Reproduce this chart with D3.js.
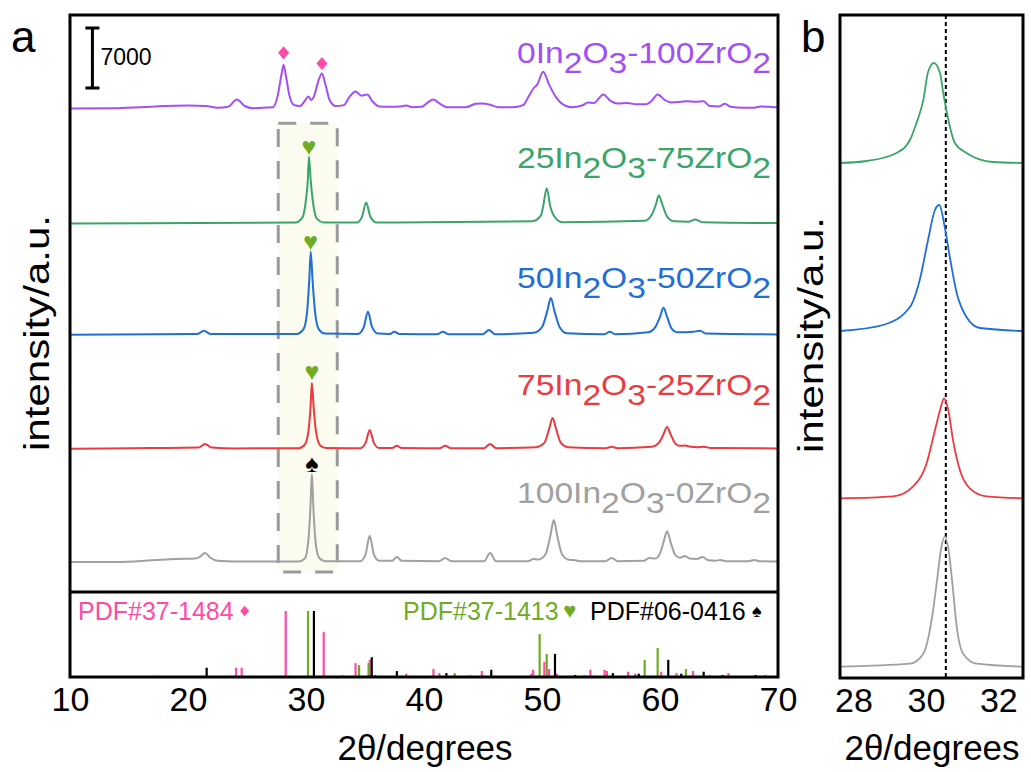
<!DOCTYPE html>
<html>
<head>
<meta charset="utf-8">
<script src="https://cdn.jsdelivr.net/npm/d3@7"></script>
<style>
body { margin: 0; background: #fff; }
text { font-family: "Liberation Sans", Arial, sans-serif; }
</style>
</head>
<body>
<svg id="drawing_region"></svg>
<script>
// ---- data: [2theta, counts above the trace baseline] ----
const samples = ["100In2O3-0ZrO2", "75In2O3-25ZrO2", "50In2O3-50ZrO2", "25In2O3-75ZrO2", "0In2O3-100ZrO2"];

const pattern_100In = [[10,0],[14,0],[17,200],[19,350],[20.6,400],[21.0,600],[21.45,1050],[21.9,500],[22.5,150],[25,50],
  [29.4,50],[29.9,400],[30.2,2500],[30.38,6500],[30.5,10300],[30.62,6500],[30.8,2500],[31.1,500],[31.6,100],
  [34.6,100],[35.05,900],[35.4,3050],[35.75,900],[36.2,150],[37.3,150],[37.7,580],[38.1,150],[41.3,100],[41.8,470],[42.3,100],
  [45.1,100],[45.6,1050],[46.1,100],[48.8,100],[49.3,350],[49.7,300],[50.3,900],[50.7,3000],[51.0,4900],[51.3,3000],[51.7,900],
  [52.3,250],[52.7,230],[53.2,100],[55.4,100],[55.9,470],[56.4,100],[58.6,150],[59.1,470],[59.6,400],[60.0,1000],[60.3,2300],
  [60.6,3600],[60.9,2300],[61.3,800],[61.7,500],[62.1,700],[62.5,400],[63.1,350],[63.6,580],[64.1,200],[64.7,150],[65.1,230],
  [65.6,100],[67.5,100],[68.0,230],[68.5,80],[70,50]];

const pattern_75In = [[10,0],[17,100],[20.9,150],[21.45,580],[22,150],[24,50],[29.4,80],[29.9,500],[30.2,2000],[30.38,4800],
  [30.5,7700],[30.65,4800],[30.85,2000],[31.2,400],[31.7,100],[34.6,80],[35.05,700],[35.4,2200],[35.75,700],[36.2,100],
  [37.3,100],[37.7,350],[38.1,100],[41.3,80],[41.8,350],[42.3,80],[45.1,80],[45.6,580],[46.1,80],[49.5,200],[50.2,700],
  [50.6,2300],[50.9,3600],[51.2,2300],[51.6,700],[52.2,200],[55.4,80],[55.9,250],[56.4,80],[59.3,250],[59.9,700],[60.3,1700],
  [60.6,2550],[60.9,1700],[61.3,600],[61.7,350],[62.1,380],[62.6,250],[63.2,200],[63.7,250],[64.3,100],[70,50]];

const pattern_50In = [[10,0],[20.8,100],[21.35,470],[21.9,100],[29.2,100],[29.8,700],[30.1,2800],[30.28,6500],[30.4,9700],
  [30.55,6500],[30.78,2500],[31.1,600],[31.6,150],[34.4,100],[34.9,900],[35.25,2700],[35.6,900],[36.1,150],[37.1,100],
  [37.5,350],[37.9,100],[41.1,80],[41.6,350],[42.1,80],[45.0,80],[45.5,580],[46.0,80],[49.3,250],[50.0,900],[50.45,2800],
  [50.75,4300],[51.05,2800],[51.5,900],[52.1,200],[55.3,80],[55.75,350],[56.2,80],[59.0,300],[59.6,900],[60.0,2100],
  [60.3,3150],[60.6,2100],[61.0,700],[61.5,300],[62.2,300],[62.8,350],[63.4,470],[63.9,150],[70,50]];

const pattern_25In = [[10,0],[29.1,100],[29.7,700],[30.0,2800],[30.15,5000],[30.25,7800],[30.4,5000],[30.62,2200],[30.95,500],
  [31.5,120],[34.3,100],[34.75,800],[35.1,2450],[35.45,800],[35.95,120],[49.2,250],[49.9,900],[50.1,2000],[50.4,4100],
  [50.7,2000],[51.1,700],[51.7,150],[58.7,300],[59.3,1000],[59.65,2200],[59.9,3250],[60.2,2200],[60.6,800],[61.2,250],
  [62.4,200],[63.0,470],[63.6,150],[70,50]];

const pattern_0In = [[10,0],[14,50],[16,150],[18,300],[20,350],[21.5,300],[22.5,100],[23.4,200],[24.15,1050],[24.8,300],
  [25.5,50],[27.2,150],[27.6,1500],[27.9,3800],[28.1,5100],[28.3,3800],[28.6,1500],[29.0,400],[29.5,300],[29.9,900],
  [30.2,1400],[30.45,1000],[30.7,1500],[31.0,3000],[31.35,4100],[31.65,2800],[32.0,1000],[32.5,300],[33.2,400],[33.7,1400],
  [34.2,2000],[34.7,1500],[35.2,1650],[35.6,900],[36.2,250],[37.2,200],[38.0,250],[38.5,350],[39.0,150],[39.8,200],
  [40.3,700],[40.8,1050],[41.3,600],[42.0,150],[43.5,150],[44.4,550],[44.9,600],[45.6,450],[46.3,150],[47.5,150],
  [48.4,400],[48.9,1500],[49.3,2400],[49.6,2800],[50.1,4300],[50.6,2800],[51.2,1300],[51.8,450],[52.5,150],[53.4,350],
  [53.9,700],[54.4,650],[55.2,1650],[55.8,900],[56.4,600],[57.2,650],[58.0,500],[58.8,500],[59.3,900],[59.8,1650],
  [60.4,1000],[61.0,700],[61.8,800],[62.3,850],[63.0,800],[63.7,850],[64.2,300],[65.0,250],[65.5,550],[66.0,200],
  [67,100],[68.0,100],[68.5,250],[69.2,200],[70,150]];

// reference cards: [2theta, relative intensity]
const pdf_37_1484 = [[17.4,2],[24.07,14],[24.55,14],[28.28,100],[31.5,68],[34.2,21],[35.4,26],[35.85,3],[38.5,5],[40.8,12],
  [41.3,6],[44.9,9],[49.1,5],[49.25,11],[50.2,23],[50.6,12],[51.27,5],[54.1,11],[55.3,11],[55.5,9],[57.3,8],[57.9,5],
  [60.1,8],[61.4,6],[62.8,9],[64.2,3],[65.8,6]];
const pdf_37_1413 = [[30.17,100],[34.5,18],[35.3,21],[42.6,6],[49.8,65],[50.4,35],[53.6,3],[58.7,26],[59.8,44],[62.2,12],[68.9,3]];
const pdf_06_0416 = [[21.58,14],[30.67,100],[33.1,2],[35.57,30],[37.7,9],[41.9,6],[43.9,2],[45.7,11],[51.1,35],[52.8,3],
  [56.0,6],[58.2,5],[60.7,26],[61.8,5],[63.7,8],[65.3,3],[68.1,3]];
const cardNames = ["PDF#37-1484", "PDF#37-1413", "PDF#06-0416"];

// panel b, slow scan around the (222) reflection
const zoom_100In = [[27.63,0],[29.56,180],[29.93,780],[30.16,2820],[30.31,5220],[30.43,7200],[30.52,7800],[30.64,6780],
  [30.74,4800],[30.85,2400],[31.03,780],[31.4,180],[32.68,0]];
const zoom_75In = [[27.63,0],[29.1,120],[29.65,720],[30.02,2100],[30.25,4080],[30.39,5280],[30.5,6000],[30.62,5280],
  [30.75,3480],[30.94,1680],[31.21,600],[31.67,120],[32.68,0]];
const zoom_50In = [[27.63,0],[28.82,360],[29.56,1440],[29.83,3060],[30.06,5460],[30.25,7260],[30.37,7560],[30.52,6240],
  [30.66,4440],[30.85,2280],[31.12,840],[31.49,180],[32.68,0]];
const zoom_25In = [[27.63,0],[28.37,120],[29.19,600],[29.56,1380],[29.74,2400],[29.93,3780],[30.06,5460],[30.22,6000],
  [30.39,5400],[30.48,4200],[30.62,2580],[30.8,1200],[31.12,600],[31.85,60],[32.68,0]];

const xTicksA = [10, 20, 30, 40, 50, 60, 70];
const xTicksB = [28, 30, 32];
const scaleBar = 7000;
const refLine = 30.55;

// ---- layout / style ----
const config = {
  width: 1031, height: 772,
  a: { left: 70, right: 778, top: 15, split: 592, bottom: 677 },
  b: { left: 840, right: 1023, top: 15, bottom: 678 },
  colors: ["#a0a0a0", "#eb3b40", "#1f6fd6", "#3aa56a", "#a24ff5"],
  cardColors: ["#ff4aa6", "#6fac23", "#000000"],
  offsetsA: [3500, 16700, 30000, 43000, 56400],
  offsetsB: [680, 10780, 20820, 30900],
  labelDy: [-59, -54, -47, -55, -46]
};
const patterns = [pattern_100In, pattern_75In, pattern_50In, pattern_25In, pattern_0In];
const zooms = [zoom_100In, zoom_75In, zoom_50In, zoom_25In];
const cards = [pdf_37_1484, pdf_37_1413, pdf_06_0416];

const svg = d3.select('#drawing_region')
  .attr('width', config.width)
  .attr('height', config.height);

const A = config.a, B = config.b;
const xA = d3.scaleLinear().domain([10, 70]).range([A.left, A.right]);
const yA = d3.scaleLinear().domain([0, (A.split - A.top) * scaleBar / 60]).range([A.split, A.top]);
const yS = d3.scaleLinear().domain([0, 100]).range([A.bottom, 611]);
const xB = d3.scaleLinear().domain([27.63, 32.68]).range([B.left, B.right]);
const yB = d3.scaleLinear().domain([0, (B.bottom - B.top) * 60]).range([B.bottom, B.top]);

// highlighted window round the main reflection
const win = { t0: 27.65, t1: 32.65, c0: 2330, c1: 54700 };
svg.append('rect')
  .attr('x', xA(win.t0)).attr('y', yA(win.c1))
  .attr('width', xA(win.t1) - xA(win.t0)).attr('height', yA(win.c0) - yA(win.c1))
  .attr('fill', '#fbfbef')
  .attr('stroke', '#9a9a9a')
  .attr('stroke-width', 3)
  .attr('stroke-dasharray', '18,14');

// traces
patterns.forEach((p, i) => {
  const off = config.offsetsA[i];
  const line = d3.line()
    .x(d => xA(d[0]))
    .y(d => yA(off + d[1]))
    .curve(d3.curveMonotoneX);
  svg.append('path')
    .attr('d', line(p))
    .attr('fill', 'none')
    .attr('stroke', config.colors[i])
    .attr('stroke-width', 2);
});

// sample labels with subscripts
function labelParts(name) {
  const parts = [];
  for (let i = 0; i < name.length; i++) {
    const c = name[i];
    const sub = /\d/.test(c) && i > 0 && /[A-Za-z]/.test(name[i - 1]);
    const last = parts[parts.length - 1];
    if (last && last.sub === sub) last.text += c;
    else parts.push({ text: c, sub: sub });
  }
  return parts;
}
samples.forEach((s, i) => {
  const g = svg.append('g')
    .attr('transform', `translate(771, ${yA(config.offsetsA[i]) + config.labelDy[i]}) scale(1.12, 1)`);
  const t = g.append('text')
    .attr('text-anchor', 'end')
    .attr('font-size', 30)
    .attr('fill', config.colors[i]);
  labelParts(s).forEach((p, k, arr) => {
    const dy = p.sub ? 10 : (k > 0 && arr[k - 1].sub ? -10 : 0);
    t.append('tspan').attr('dy', dy).text(p.text);
  });
});

// phase markers above peaks
const peakAt = (p, t) => p.find(d => d[0] === t)[1];
const markers = [
  { s: 0, t: 30.5, sym: '♠', c: 2, gap: 10 },
  { s: 1, t: 30.5, sym: '♥', c: 1, gap: 11 },
  { s: 2, t: 30.4, sym: '♥', c: 1, gap: 10 },
  { s: 3, t: 30.25, sym: '♥', c: 1, gap: 10 },
  { s: 4, t: 28.1, sym: '♦', c: 0, gap: 12 },
  { s: 4, t: 31.35, sym: '♦', c: 0, gap: 10 }
];
function drawMark(x, y, sym, color, size) {
  if (sym === '♦') {
    svg.append('path')
      .attr('d', d3.symbol(d3.symbolSquare, size)())
      .attr('transform', `translate(${x},${y}) scale(0.85,1) rotate(45)`)
      .attr('fill', color);
  } else {
    svg.append('text')
      .attr('x', x).attr('y', y + size * 0.33)
      .attr('text-anchor', 'middle')
      .attr('font-family', 'DejaVu Sans')
      .attr('font-size', size)
      .attr('fill', color)
      .text(sym);
  }
}
markers.forEach(m => {
  const y = yA(config.offsetsA[m.s] + peakAt(patterns[m.s], m.t)) - m.gap;
  drawMark(xA(m.t), y, m.sym, config.cardColors[m.c], m.sym === '♦' ? 85 : 25);
});

// scale bar
const barX = xA(11.9), barTop = yA(65800), barBot = yA(65800 - scaleBar);
svg.append('path')
  .attr('d', `M${barX - 7},${barTop}H${barX + 7}M${barX},${barTop}V${barBot}M${barX - 7},${barBot}H${barX + 7}`)
  .attr('stroke', '#000').attr('stroke-width', 3).attr('fill', 'none');
svg.append('text')
  .attr('x', barX + 8).attr('y', barTop + 37)
  .attr('font-size', 23)
  .text(d3.format('d')(scaleBar));

// reference sticks
cards.forEach((c, i) => {
  svg.append('g').selectAll('line')
    .data(c)
    .join('line')
    .attr('x1', d => xA(d[0])).attr('x2', d => xA(d[0]))
    .attr('y1', yS(0)).attr('y2', d => yS(d[1]))
    .attr('stroke', config.cardColors[i])
    .attr('stroke-width', 2.2);
});
const legendPos = [[78, 620, '♦'], [403, 620, '♥'], [590, 620, '♠']];
cardNames.forEach((n, i) => {
  const t = svg.append('text')
    .attr('x', legendPos[i][0]).attr('y', legendPos[i][1])
    .attr('font-size', 25)
    .attr('fill', config.cardColors[i])
    .text(n);
  const w = t.node().getComputedTextLength();
  const mx = legendPos[i][0] + w + 11;
  drawMark(mx, 611, legendPos[i][2], config.cardColors[i], i === 0 ? 55 : (i === 1 ? 22 : 18));
});

// panel b
svg.append('line')
  .attr('x1', xB(refLine)).attr('x2', xB(refLine))
  .attr('y1', B.top).attr('y2', B.bottom)
  .attr('stroke', '#000').attr('stroke-width', 2).attr('stroke-dasharray', '4,3');
zooms.forEach((p, i) => {
  const off = config.offsetsB[i];
  const line = d3.line()
    .x(d => xB(d[0]))
    .y(d => yB(off + d[1]))
    .curve(d3.curveMonotoneX);
  svg.append('path')
    .attr('d', line(p))
    .attr('fill', 'none')
    .attr('stroke', config.colors[i])
    .attr('stroke-width', 1.8);
});

// frames
svg.append('rect')
  .attr('x', A.left).attr('y', A.top)
  .attr('width', A.right - A.left).attr('height', A.bottom - A.top)
  .attr('fill', 'none').attr('stroke', '#000').attr('stroke-width', 3);
svg.append('line')
  .attr('x1', A.left).attr('x2', A.right).attr('y1', A.split).attr('y2', A.split)
  .attr('stroke', '#000').attr('stroke-width', 3);
svg.append('rect')
  .attr('x', B.left).attr('y', B.top)
  .attr('width', B.right - B.left).attr('height', B.bottom - B.top)
  .attr('fill', 'none').attr('stroke', '#000').attr('stroke-width', 3);

// axes (labels only, no tick marks)
const axA = svg.append('g')
  .attr('transform', `translate(0, ${A.bottom})`)
  .call(d3.axisBottom(xA).tickValues(xTicksA).tickFormat(d3.format('d')).tickSize(0).tickPadding(10));
const axB = svg.append('g')
  .attr('transform', `translate(0, ${B.bottom})`)
  .call(d3.axisBottom(xB).tickValues(xTicksB).tickFormat(d3.format('d')).tickSize(0).tickPadding(10));
[axA, axB].forEach(ax => {
  ax.select('.domain').remove();
  ax.selectAll('text')
    .attr('font-family', '"Liberation Sans", Arial, sans-serif')
    .attr('font-size', 34)
    .attr('fill', '#000');
});

// titles
svg.append('text').attr('x', 425).attr('y', 760).attr('text-anchor', 'middle')
  .attr('font-size', 35).text('2θ/degrees');
svg.append('text').attr('x', 932).attr('y', 760).attr('text-anchor', 'middle')
  .attr('font-size', 35).text('2θ/degrees');
[[49, 333], [823, 335]].forEach(p => {
  svg.append('text')
    .attr('transform', `translate(${p[0]}, ${p[1]}) rotate(-90)`)
    .attr('text-anchor', 'middle')
    .attr('font-size', 35)
    .attr('textLength', 236)
    .attr('lengthAdjust', 'spacingAndGlyphs')
    .text('intensity/a.u.');
});
svg.append('text').attr('x', 11).attr('y', 52).attr('font-size', 44).text('a');
svg.append('text').attr('x', 801).attr('y', 52).attr('font-size', 44).text('b');
</script>
</body>
</html>
